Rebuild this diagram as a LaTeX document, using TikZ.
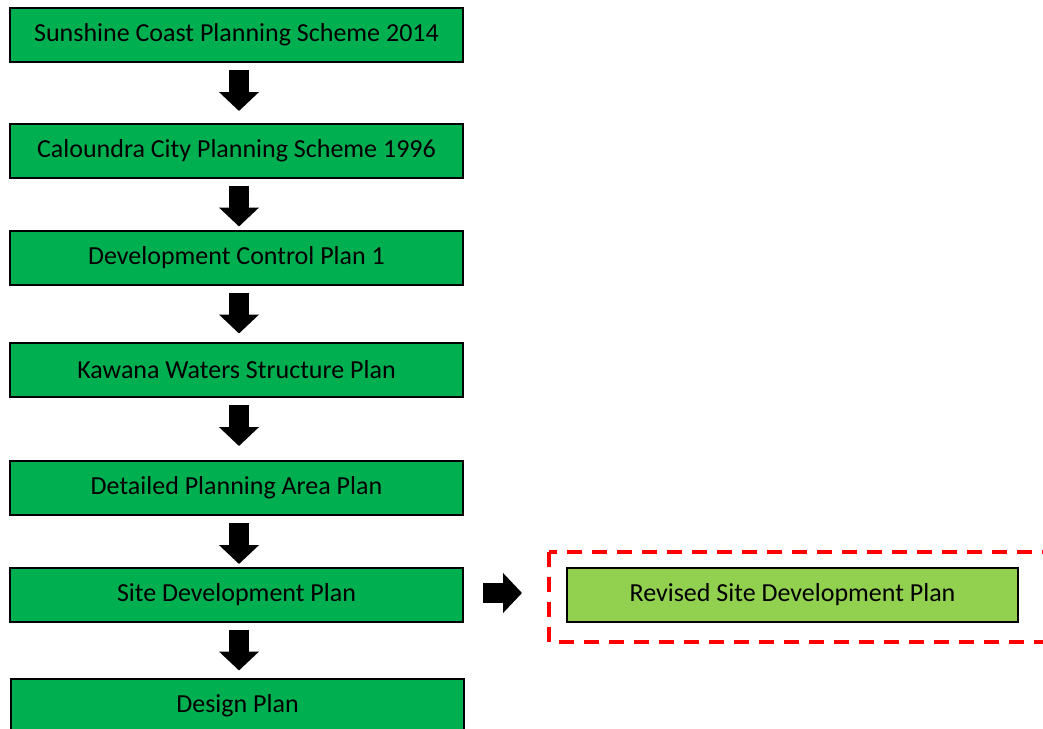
\documentclass[tikz,border=0pt]{standalone}
\usepackage{fontspec}
\setmainfont{Carlito}
\usepackage{tikz}
\usepackage{xcolor}
\usetikzlibrary{arrows.meta,positioning,calc}
\definecolor{plangreen}{HTML}{00B050}
\definecolor{revgreen}{HTML}{92D050}
\definecolor{dashred}{HTML}{FF0000}
\tikzset{
  planbox/.style={draw=black, fill=plangreen, line width=2pt, minimum width=453pt,
                  minimum height=54pt, inner sep=0pt, font=\fontsize{26}{30}\selectfont},
  revbox/.style={planbox, fill=revgreen, minimum width=451pt},
  blockarrow/.style={line width=19.5pt, draw=black,
                     -{Triangle[length=19pt,width=39pt]}},
  reddash/.style={draw=dashred, line width=4pt, dash pattern=on 15pt off 10pt}
}
\begin{document}
\begin{tikzpicture}[x=1pt,y=1pt]
        \useasboundingbox (0,0) rectangle (1043,-728);
        \node[planbox] (scps) at (236.5,-35) {Sunshine Coast Planning Scheme 2014};
        \node[planbox] (ccps) at (236.5,-150.5) {Caloundra City Planning Scheme 1996};
        \node[planbox] (dcp) at (236.5,-257.5) {Development Control Plan 1};
        \node[planbox] (kwsp) at (236.5,-370) {Kawana Waters Structure Plan};
        \node[planbox] (dpap) at (236.5,-488) {Detailed Planning Area Plan};
        \node[planbox] (sdp) at (236.5,-594.5) {Site Development Plan};
        \node[planbox] (design) at (237.5,-706) {Design Plan};

        \node[revbox] (rsdp) at (792.5,-594.5) {Revised Site Development Plan};
        \draw[reddash] ($(rsdp.north west)+(-17,15)$) rectangle ($(rsdp.south east)+(44,-19)$);

        \foreach \a/\b in {scps/ccps,ccps/dcp,dcp/kwsp,kwsp/dpap,dpap/sdp,sdp/design}
          \draw[blockarrow] ($(\a.south)+(2.5,-7)$) -- ++(0,-41);

        \draw[blockarrow] ($(sdp.east)+(19,1.5)$) -- ($(rsdp.west)+(-44,1.5)$);
      \end{tikzpicture}
\end{document}
